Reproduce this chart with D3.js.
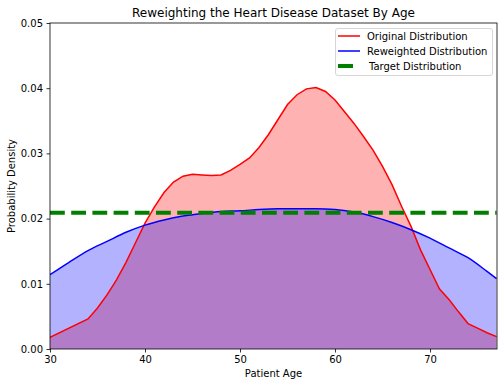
<!DOCTYPE html>
<html>
<head>
<meta charset="utf-8">
<script src="https://cdn.jsdelivr.net/npm/d3@7"></script>
<style>
  body { margin: 0; background: #fff; }
  svg text { font-family: "DejaVu Sans", sans-serif; fill: #000; }
</style>
</head>
<body>
<div id="chart"></div>
<script>
// ages at which the original (red) density was read
var origAges = [30, 34, 35, 36, 37, 38, 39, 40, 41, 42, 43, 44, 45, 46, 47, 48, 49, 50, 51, 52, 53, 54,
                55, 56, 57, 58, 59, 60, 61, 62, 63, 64, 65, 66, 67, 68, 69, 70, 71, 72, 73, 74, 75, 76, 77];
var origValues = [0.0018, 0.0046, 0.0063, 0.0083, 0.0106, 0.0133, 0.0163, 0.0193, 0.0218, 0.0240, 0.0256,
                  0.0265, 0.0268, 0.0267, 0.0266, 0.0267, 0.0274, 0.0283, 0.0293, 0.0309, 0.0329, 0.0352,
                  0.0375, 0.0390, 0.0399, 0.0401, 0.0395, 0.0382, 0.0364, 0.0346, 0.0326, 0.0305, 0.0280,
                  0.0252, 0.0219, 0.0188, 0.0152, 0.0122, 0.0092, 0.0076, 0.0057, 0.0039, 0.0032, 0.0025, 0.0019];

// reweighted (blue) density
var reweightAges = [30, 32, 34, 36, 38, 40, 42, 44, 46, 48, 50, 52, 54, 56, 58, 60, 62, 64, 66, 68, 70, 72, 74, 76, 77];
var reweightValues = [0.0114, 0.0133, 0.0151, 0.0165, 0.0179, 0.0190, 0.0198, 0.0204, 0.0208, 0.0211, 0.0212,
                      0.0214, 0.0215, 0.0215, 0.0215, 0.0214, 0.0210, 0.0203, 0.0194, 0.0183, 0.0170, 0.0155,
                      0.0140, 0.0119, 0.0108];

var targetValue = 0.0209;

var xTicks = [30, 40, 50, 60, 70];
var yTicks = [0.00, 0.01, 0.02, 0.03, 0.04, 0.05];

var W = 503, H = 387;
var margin = {left: 50, right: 6, top: 23, bottom: 38};
var iw = W - margin.left - margin.right;   // plot width
var ih = H - margin.top - margin.bottom;

var svg = d3.select("#chart").append("svg")
    .attr("width", W)
    .attr("height", H);

var x = d3.scaleLinear().domain([30, 77.05]).range([0, iw]);
var y = d3.scaleLinear().domain([0, 0.05]).range([ih, 0]);

var g = svg.append("g").attr("transform", "translate(" + margin.left + "," + margin.top + ")");

g.append("clipPath").attr("id", "clip")
    .append("rect").attr("width", iw).attr("height", ih);

var orig = origAges.map(function(a, i){ return {age: a, v: origValues[i]}; });
var rew = reweightAges.map(function(a, i){ return {age: a, v: reweightValues[i]}; });

var area = d3.area()
    .x(function(d){ return x(d.age); })
    .y0(y(0))
    .y1(function(d){ return y(d.v); });
var line = d3.line()
    .x(function(d){ return x(d.age); })
    .y(function(d){ return y(d.v); });
var smooth = d3.line()
    .curve(d3.curveMonotoneX)
    .x(function(d){ return x(d.age); })
    .y(function(d){ return y(d.v); });

var plot = g.append("g").attr("clip-path", "url(#clip)");

// fills first, like matplotlib zorder
plot.append("path").datum(orig).attr("d", area)
    .attr("fill", "red").attr("fill-opacity", 0.3);
plot.append("path").datum(rew).attr("d", area.curve(d3.curveMonotoneX))
    .attr("fill", "blue").attr("fill-opacity", 0.3);

plot.append("path").datum(orig).attr("d", line)
    .attr("fill", "none").attr("stroke", "red").attr("stroke-width", 1.5);
plot.append("path").datum(rew).attr("d", smooth)
    .attr("fill", "none").attr("stroke", "blue").attr("stroke-width", 1.5);

plot.append("line")
    .attr("x1", x(30)).attr("x2", x(77))
    .attr("y1", y(targetValue)).attr("y2", y(targetValue))
    .attr("stroke", "green").attr("stroke-width", 4)
    .attr("stroke-dasharray", "14.8,6.4");

// axes
var xAxis = d3.axisBottom(x).tickValues(xTicks).tickSize(3.5).tickPadding(3.5)
    .tickFormat(d3.format("d"));
var yAxis = d3.axisLeft(y).tickValues(yTicks).tickSize(3.5).tickPadding(3.5)
    .tickFormat(d3.format(".2f"));

var gx = g.append("g").attr("transform", "translate(0," + ih + ")").call(xAxis);
var gy = g.append("g").call(yAxis);
[gx, gy].forEach(function(ax){
    ax.select(".domain").remove();
    ax.selectAll("line").attr("stroke", "#000").attr("stroke-width", 0.8);
    ax.selectAll("text").style("font-size", "10px");
});

// frame
g.append("rect").attr("width", iw).attr("height", ih)
    .attr("fill", "none").attr("stroke", "#000").attr("stroke-width", 0.8);

// texts
svg.append("text").attr("x", margin.left + iw / 2).attr("y", 17)
    .attr("text-anchor", "middle").style("font-size", "12px")
    .text("Reweighting the Heart Disease Dataset By Age");
svg.append("text").attr("x", margin.left + iw / 2).attr("y", 377)
    .attr("text-anchor", "middle").style("font-size", "10px")
    .text("Patient Age");
svg.append("text")
    .attr("transform", "translate(15," + (margin.top + ih / 2) + ") rotate(-90)")
    .attr("text-anchor", "middle").style("font-size", "10px")
    .text("Probability Density");

// legend
var legendItems = [
    {label: "Original Distribution", color: "red", w: 1.5, len: 22, tx: 367},
    {label: "Reweighted Distribution", color: "blue", w: 1.5, len: 22, tx: 367},
    {label: "Target Distribution", color: "green", w: 4, len: 15, tx: 369}
];
var lg = svg.append("g");
lg.append("rect")
    .attr("x", 335.5).attr("y", 28.5).attr("width", 157).attr("height", 47)
    .attr("rx", 2.5).attr("fill", "#fff").attr("fill-opacity", 0.8)
    .attr("stroke", "#ccc").attr("stroke-width", 0.8);
legendItems.forEach(function(d, i){
    var yy = 36 + i * 15;
    lg.append("line").attr("x1", 338).attr("x2", 338 + d.len)
        .attr("y1", yy).attr("y2", yy)
        .attr("stroke", d.color).attr("stroke-width", d.w);
    lg.append("text").attr("x", d.tx).attr("y", yy + 3.5)
        .style("font-size", "10px").text(d.label);
});
</script>
</body>
</html>
